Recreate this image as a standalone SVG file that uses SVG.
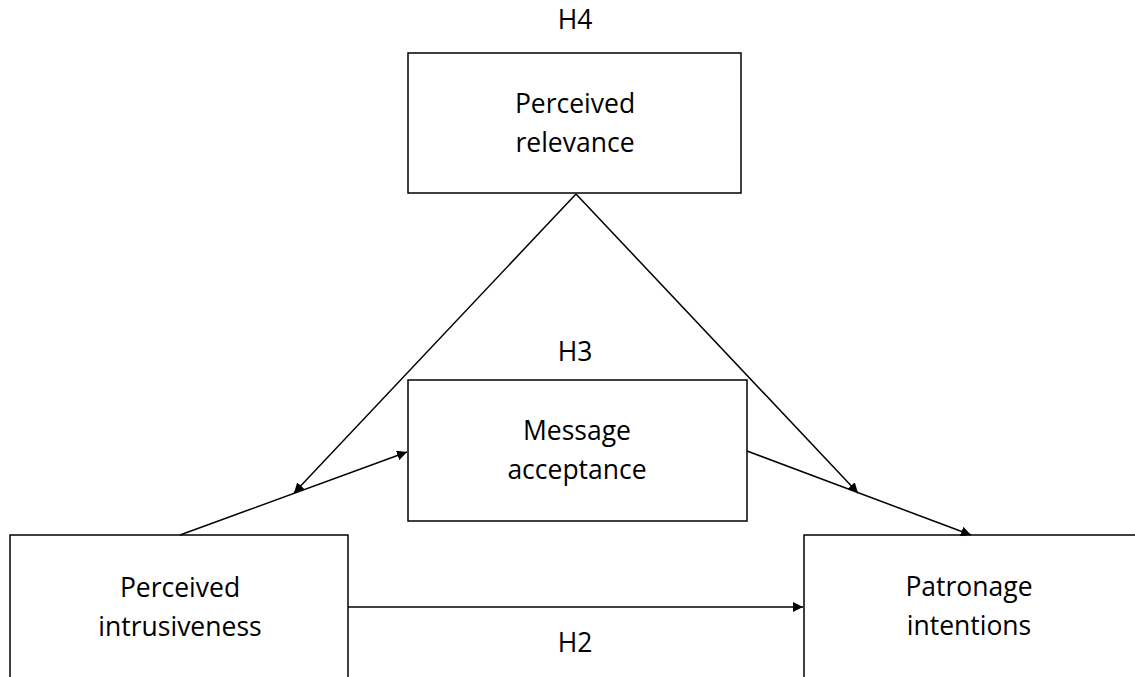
<svg xmlns="http://www.w3.org/2000/svg" width="1135" height="677" viewBox="0 0 1135 677">
<style>
.box{fill:#fff;stroke:#000;stroke-width:1.5}
.t{font-family:"Open Sans","Liberation Sans",sans-serif;font-size:26.5px;fill:#000;text-anchor:middle}
.c{stroke:#000;stroke-width:1.5;fill:none}
</style>
<defs>
<marker id="ah" viewBox="0 0 10 10" refX="10" refY="5" markerWidth="10" markerHeight="10" markerUnits="userSpaceOnUse" orient="auto">
<path d="M0,0 L10,5 L0,10 z" fill="#000"/>
</marker>
</defs>
<rect width="1135" height="677" fill="#fff"/>
<g id="relevance">
<rect class="box" x="408" y="53" width="333" height="140"/>
<text class="t" x="575" y="113">Perceived</text>
<text class="t" x="575" y="152">relevance</text>
</g>
<g id="acceptance">
<rect class="box" x="408" y="380" width="339" height="141"/>
<text class="t" x="577" y="440">Message</text>
<text class="t" x="577" y="479">acceptance</text>
</g>
<g id="intrusiveness">
<rect class="box" x="10" y="535" width="338" height="160"/>
<text class="t" x="180" y="597">Perceived</text>
<text class="t" x="180" y="636">intrusiveness</text>
</g>
<g id="patronage">
<rect class="box" x="804" y="535" width="345" height="160"/>
<text class="t" x="969" y="596">Patronage</text>
<text class="t" x="969" y="635">intentions</text>
</g>
<g id="labels">
<text class="t" x="575" y="29">H4</text>
<text class="t" x="575" y="361">H3</text>
<text class="t" x="575" y="652">H2</text>
</g>
<g id="connectors">
<line class="c" x1="576" y1="194" x2="294" y2="493" marker-end="url(#ah)"/>
<line class="c" x1="576" y1="194" x2="858" y2="493" marker-end="url(#ah)"/>
<line class="c" x1="180" y1="535" x2="407" y2="452" marker-end="url(#ah)"/>
<line class="c" x1="747" y1="451" x2="971" y2="535" marker-end="url(#ah)"/>
<line class="c" x1="348" y1="607" x2="803" y2="607" marker-end="url(#ah)"/>
</g>
</svg>
